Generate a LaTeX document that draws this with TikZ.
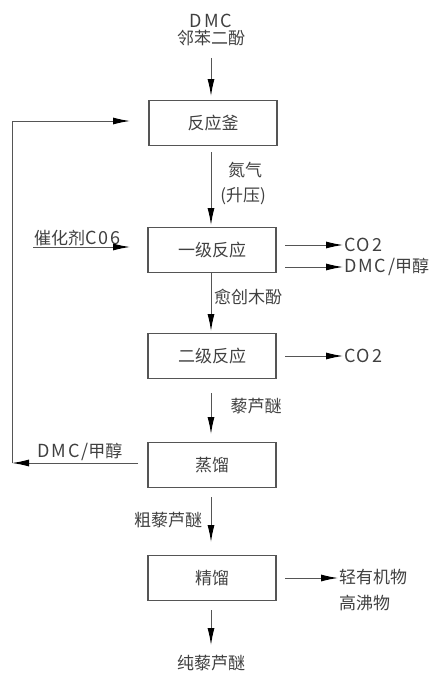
\documentclass[tikz,border=0pt]{standalone}
\usepackage{fontspec}
\setmainfont{Noto Sans CJK SC}
\usepackage{tikz}
\usetikzlibrary{arrows.meta,positioning,calc}
\definecolor{lineg}{HTML}{555555}
\newcommand{\lat}[1]{{\addfontfeature{LetterSpace=10}\fontsize{18}{20}\selectfont #1}}

\begin{document}
\begin{tikzpicture}[x=1pt,y=-1pt,
  stage/.style={draw=lineg, line width=1.2pt, minimum width=128pt, minimum height=45pt,
        inner sep=0pt, font=\fontsize{17}{19}\selectfont, text=black!75},
  lbl/.style={font=\fontsize{17}{19}\selectfont, text=black!75, inner sep=1pt},
  flow/.style={draw=lineg, line width=1pt, -{Latex[length=17pt,width=7pt,color=black]}}]
\useasboundingbox (0,0) rectangle (435,677);

% process stages
\node[stage] (reactor) at (213,123) {反应釜};
\node[stage] (first)   at (212,250) {一级反应};
\node[stage] (second)  at (212,356) {二级反应};
\node[stage] (distil)  at (212,465) {蒸馏};
\node[stage] (rectif)  at (212,578) {精馏};

% feeds and products
\node[lbl, align=center] (feed) at (211,30) {\lat{DMC}\\[-2pt]邻苯二酚};
\node[lbl] (nitro) at (245,170) {氮气};
\node[lbl] (press) at (243,196) {(升压)};
\node[lbl, anchor=south west] (cat) at (33,247) {催化剂\lat{C06}};
\node[lbl, anchor=west] (co2a) at (343,245) {\lat{CO2}};
\node[lbl, anchor=west] (dmca) at (343,267) {\lat{DMC/}甲醇};
\node[lbl] (guaia) at (248,297) {愈创木酚};
\node[lbl, anchor=west] (co2b) at (343,356) {\lat{CO2}};
\node[lbl] (vera) at (256,406) {藜芦醚};
\node[lbl] (recyc) at (80,452) {\lat{DMC/}甲醇};
\node[lbl] (crude) at (168,520) {粗藜芦醚};
\node[lbl, anchor=west] (light) at (338,577) {轻有机物};
\node[lbl, anchor=west] (heavy) at (338,603) {高沸物};
\node[lbl] (pure) at (211,663) {纯藜芦醚};

% main line
\draw[flow] (211,58) -- (211,96);
\draw[flow] (211,152) -- (211,225);
\draw[flow] (211,272) -- (211,331);
\draw[flow] (211,393) -- (211,434);
\draw[flow] (211,497) -- (211,542);
\draw[flow] (211,610) -- (211,645);

% side streams
\draw[flow] (cat.south west) -- (130,247);
\draw[flow] (285,245) -- (co2a.west);
\draw[flow] (285,267) -- (dmca.west);
\draw[flow] (285,356) -- (co2b.west);
\draw[flow] (285,578) -- (light.west |- 0,578);

% recycle back to the reactor
\coordinate (bend) at (12,463);
\draw[flow] (138,463) -- (bend);
\draw[flow] (bend) -- (12,121) -- (130,121);
\end{tikzpicture}
\end{document}
